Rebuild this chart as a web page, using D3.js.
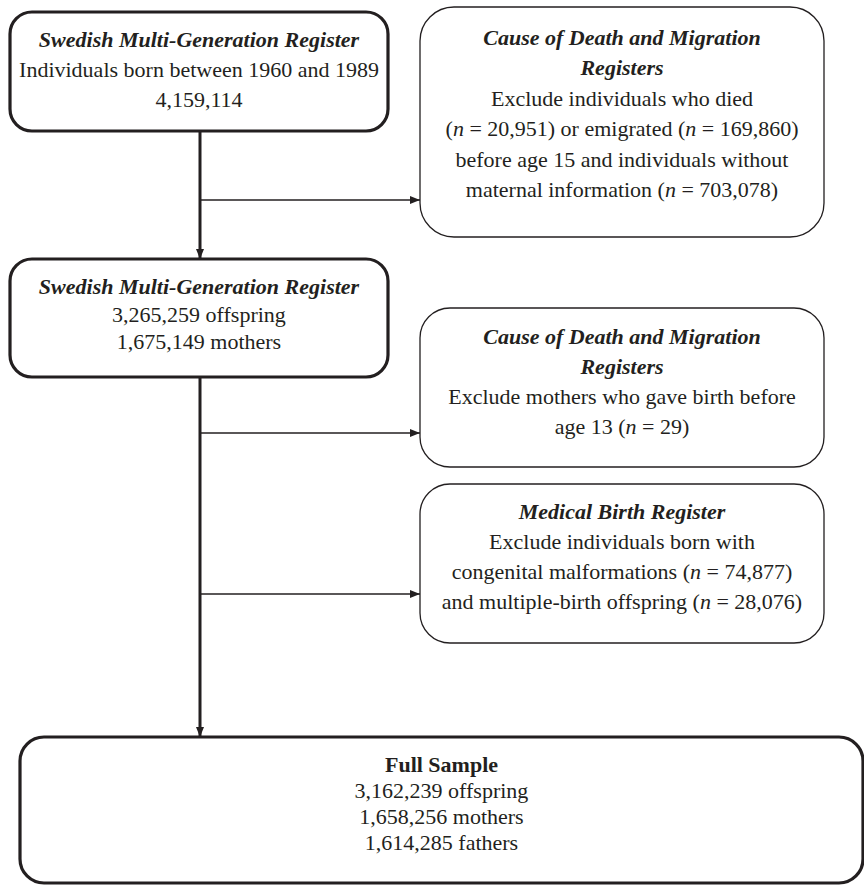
<!DOCTYPE html>
<html>
<head>
<meta charset="utf-8">
<script src="https://cdn.jsdelivr.net/npm/d3@7"></script>
<style>
  body { margin: 0; background: #fff; }
</style>
</head>
<body>
<svg id="flow"></svg>
<script>
// Data ////////////////////////////////////////////////////////////////
// "{n}" marks an italic n inside a line
var boxIds = ["start", "deathMig1", "mgr", "deathMig2", "mbr", "full"];
var boxTitles = [
    ["Swedish Multi-Generation Register"],
    ["Cause of Death and Migration", "Registers"],
    ["Swedish Multi-Generation Register"],
    ["Cause of Death and Migration", "Registers"],
    ["Medical Birth Register"],
    ["Full Sample"]
];
var boxLines = [
    ["Individuals born between 1960 and 1989", "4,159,114"],
    ["Exclude individuals who died", "({n} = 20,951) or emigrated ({n} = 169,860)",
     "before age 15 and individuals without", "maternal information ({n} = 703,078)"],
    ["3,265,259 offspring", "1,675,149 mothers"],
    ["Exclude mothers who gave birth before", "age 13 ({n} = 29)"],
    ["Exclude individuals born with", "congenital malformations ({n} = 74,877)",
     "and multiple-birth offspring ({n} = 28,076)"],
    ["3,162,239 offspring", "1,658,256 mothers", "1,614,285 fathers"]
];

// Layout //////////////////////////////////////////////////////////////
var width = 864, height = 885;
var layout = {
    start:     {x: 10,  y: 12,  w: 378, h: 119, r: 22, thick: true,  first: 47,  lh: 30,   titleItalic: true},
    deathMig1: {x: 420, y: 7,   w: 404, h: 230, r: 34, thick: false, first: 45,  lh: 30.4, titleItalic: true},
    mgr:       {x: 10,  y: 259, w: 378, h: 118, r: 22, thick: true,  first: 294, lh: 27.5, titleItalic: true},
    deathMig2: {x: 420, y: 308, w: 404, h: 159, r: 30, thick: false, first: 344, lh: 30,   titleItalic: true},
    mbr:       {x: 420, y: 484, w: 404, h: 159, r: 30, thick: false, first: 519, lh: 30,   titleItalic: true},
    full:      {x: 20,  y: 737, w: 843, h: 146, r: 24, thick: true,  first: 772, lh: 26,   titleItalic: false}
};
var spineX = 200;
// main flow and side branches
var spine = [["start", "mgr"], ["mgr", "full"]];
var branches = [{from: 200, to: "deathMig1"}, {from: 433, to: "deathMig2"}, {from: 594, to: "mbr"}];

var ink = "#231f20";
var font = "'Liberation Serif', 'Times New Roman', Times, serif";

var svg = d3.select("#flow")
    .attr("width", width)
    .attr("height", height);

var defs = svg.append("defs");
defs.append("marker")
    .attr("id", "arrow")
    .attr("markerUnits", "userSpaceOnUse")
    .attr("viewBox", "0 0 10 8")
    .attr("refX", 10)
    .attr("refY", 4)
    .attr("markerWidth", 10)
    .attr("markerHeight", 8)
    .attr("orient", "auto")
    .append("path")
        .attr("d", "M0,0 L10,4 L0,8 Z")
        .attr("fill", ink);

// Boxes //////////////////////////////////////////////////////////////
var boxes = boxIds.map(function(id, i) {
    return {id: id, title: boxTitles[i], lines: boxLines[i], L: layout[id]};
});

svg.selectAll(".box")
    .data(boxes)
    .enter()
    .append("rect")
        .attr("class", "box")
        .attr("x", function(d) { return d.L.x })
        .attr("y", function(d) { return d.L.y })
        .attr("width", function(d) { return d.L.w })
        .attr("height", function(d) { return d.L.h })
        .attr("rx", function(d) { return d.L.r })
        .attr("ry", function(d) { return d.L.r })
        .attr("fill", "#fff")
        .attr("stroke", ink)
        .attr("stroke-width", function(d) { return d.L.thick ? 3.2 : 1.3 });

// Connectors /////////////////////////////////////////////////////////
svg.selectAll(".spine")
    .data(spine)
    .enter()
    .append("line")
        .attr("class", "spine")
        .attr("x1", spineX)
        .attr("x2", spineX)
        .attr("y1", function(d) { return layout[d[0]].y + layout[d[0]].h })
        .attr("y2", function(d) { return layout[d[1]].y })
        .attr("stroke", ink)
        .attr("stroke-width", 3)
        .attr("marker-end", "url(#arrow)");

svg.selectAll(".branch")
    .data(branches)
    .enter()
    .append("line")
        .attr("class", "branch")
        .attr("x1", spineX + 1)
        .attr("x2", function(d) { return layout[d.to].x })
        .attr("y1", function(d) { return d.from })
        .attr("y2", function(d) { return d.from })
        .attr("stroke", ink)
        .attr("stroke-width", 1.3)
        .attr("marker-end", "url(#arrow)");

// Text ///////////////////////////////////////////////////////////////
var fontSize = 22;

boxes.forEach(function(b) {
    var cx = b.L.x + b.L.w / 2;
    var g = svg.append("g").attr("class", "label");
    var rows = b.title.map(function(t) { return {text: t, title: true} })
        .concat(b.lines.map(function(t) { return {text: t, title: false} }));

    rows.forEach(function(row, i) {
        var t = g.append("text")
            .attr("x", cx)
            .attr("y", b.L.first + i * b.L.lh)
            .attr("text-anchor", "middle")
            .style("font-family", font)
            .attr("font-size", fontSize)
            .attr("fill", ink);
        if (row.title) {
            t.attr("font-weight", "bold")
             .attr("font-style", b.L.titleItalic ? "italic" : "normal")
             .text(row.text);
            return;
        }
        row.text.split("{n}").forEach(function(part, j) {
            if (j > 0) t.append("tspan").attr("font-style", "italic").text("n");
            t.append("tspan").text(part);
        });
    });
});
</script>
</body>
</html>
